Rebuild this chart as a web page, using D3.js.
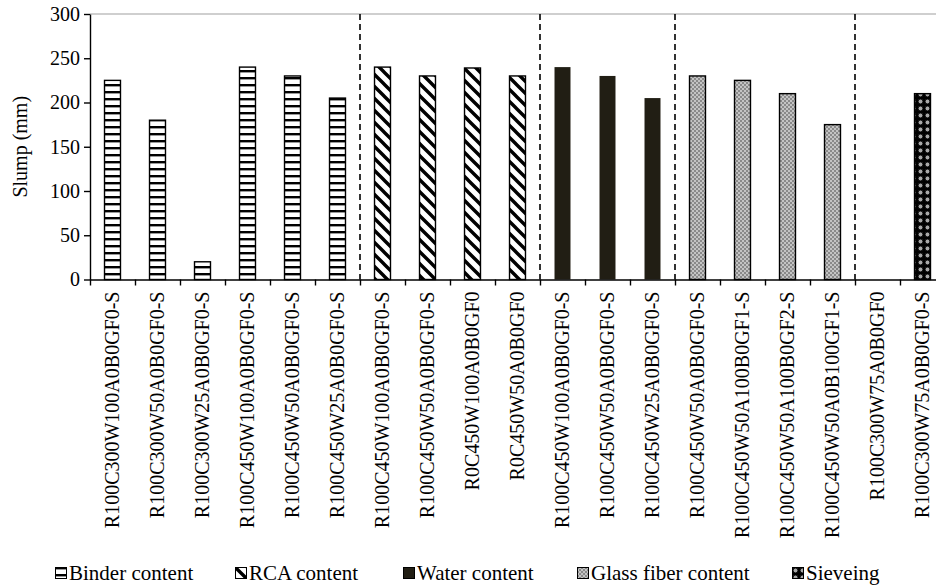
<!DOCTYPE html>
<html>
<head>
<meta charset="utf-8">
<script src="https://cdn.jsdelivr.net/npm/d3@7"></script>
<style>
  body { margin: 0; background: #fff; }
</style>
</head>
<body>
<svg id="chart" width="936" height="586"></svg>
<script>
// mix names
const mixes = [
  "R100C300W100A0B0GF0-S", "R100C300W50A0B0GF0-S", "R100C300W25A0B0GF0-S",
  "R100C450W100A0B0GF0-S", "R100C450W50A0B0GF0-S", "R100C450W25A0B0GF0-S",
  "R100C450W100A0B0GF0-S", "R100C450W50A0B0GF0-S", "R0C450W100A0B0GF0", "R0C450W50A0B0GF0",
  "R100C450W100A0B0GF0-S", "R100C450W50A0B0GF0-S", "R100C450W25A0B0GF0-S",
  "R100C450W50A0B0GF0-S", "R100C450W50A100B0GF1-S", "R100C450W50A100B0GF2-S", "R100C450W50A0B100GF1-S",
  "R100C300W75A0B0GF0", "R100C300W75A0B0GF0-S"
]
// slump in mm
const slump = [225, 180, 20, 240, 230, 205, 240, 230, 239, 230, 240, 230, 205, 230, 225, 210, 175, 0, 210]
// which study group each bar belongs to
const groupOf = [0, 0, 0, 0, 0, 0, 1, 1, 1, 1, 2, 2, 2, 3, 3, 3, 3, 4, 4]
const groupNames = ["Binder content", "RCA content", "Water content", "Glass fiber content", "Sieveing"]
const yTicks = [0, 50, 100, 150, 200, 250, 300]

const serif = "'Liberation Serif', 'Times New Roman', serif"
const svg = d3.select("#chart")
const plotLeft = 90, plotTop = 14, plotBottom = 279.5, step = 45

const x = d3.scaleBand()
  .domain(d3.range(mixes.length))
  .range([plotLeft, plotLeft + step * mixes.length])
  .paddingInner(0.645)
  .paddingOuter(0.3225)

const xEdge = d3.scaleLinear()
  .domain([0, mixes.length])
  .range([plotLeft, plotLeft + step * mixes.length])

const y = d3.scaleLinear().domain([0, 300]).range([plotBottom, plotTop])

// fill patterns
const defs = svg.append("defs")

const pHoriz = defs.append("pattern").attr("id", "p0")
  .attr("patternUnits", "userSpaceOnUse").attr("width", 8).attr("height", 7)
pHoriz.append("rect").attr("width", 8).attr("height", 7).attr("fill", "#fff")
pHoriz.append("rect").attr("y", 0).attr("width", 8).attr("height", 2.4).attr("fill", "#000")

const pDiag = defs.append("pattern").attr("id", "p1")
  .attr("patternUnits", "userSpaceOnUse").attr("width", 12).attr("height", 12)
pDiag.append("rect").attr("width", 12).attr("height", 12).attr("fill", "#fff")
pDiag.append("path").attr("d", "M-3,-3L15,15M-3,9L3,15M9,-3L15,3")
  .attr("stroke", "#000").attr("stroke-width", 3.4)

const pCheck = defs.append("pattern").attr("id", "p3")
  .attr("patternUnits", "userSpaceOnUse").attr("width", 4).attr("height", 4)
pCheck.append("rect").attr("width", 4).attr("height", 4).attr("fill", "#c4c4c4")
pCheck.append("rect").attr("width", 2).attr("height", 2).attr("fill", "#8a8a8a")
pCheck.append("rect").attr("x", 2).attr("y", 2).attr("width", 2).attr("height", 2).attr("fill", "#8a8a8a")

const pDots = defs.append("pattern").attr("id", "p4")
  .attr("patternUnits", "userSpaceOnUse").attr("width", 7).attr("height", 7)
pDots.append("rect").attr("width", 7).attr("height", 7).attr("fill", "#000")
pDots.append("circle").attr("cx", 3.5).attr("cy", 3.5).attr("r", 2.4)
  .attr("fill", "#a8a8a8").attr("stroke", "#000").attr("stroke-width", 0.8)

const fills = ["url(#p0)", "url(#p1)", "#211e14", "url(#p3)", "url(#p4)"]
const strokes = ["#000", "#000", "none", "#000", "#000"]

// top border of plot area
svg.append("line")
  .attr("x1", plotLeft).attr("x2", 936)
  .attr("y1", plotTop).attr("y2", plotTop)
  .attr("stroke", "#a0a0a0").attr("stroke-width", 1.2)

// dashed separators between groups
const splits = [6, 10, 13, 17]
svg.selectAll(".split")
  .data(splits)
  .join("line")
  .attr("class", "split")
  .attr("x1", d => xEdge(d)).attr("x2", d => xEdge(d))
  .attr("y1", plotTop).attr("y2", plotBottom)
  .attr("stroke", "#000").attr("stroke-width", 1.6)
  .attr("stroke-dasharray", "6,4")

// bars
svg.selectAll(".bar")
  .data(slump.map((v, i) => ({ i: i, v: v, g: groupOf[i] })).filter(d => d.v > 0))
  .join("rect")
  .attr("class", "bar")
  .attr("x", d => x(d.i))
  .attr("y", d => y(d.v))
  .attr("width", x.bandwidth())
  .attr("height", d => y(0) - y(d.v))
  .attr("fill", d => fills[d.g])
  .attr("stroke", d => strokes[d.g])
  .attr("stroke-width", 1.4)

// axes
const xAxis = svg.append("g")
  .attr("transform", "translate(0," + plotBottom + ")")
  .call(d3.axisBottom(xEdge).tickValues(d3.range(mixes.length + 1)).tickSize(6).tickSizeOuter(0).tickFormat(""))
xAxis.select(".domain").attr("stroke-width", 1.6)
xAxis.selectAll(".tick line").attr("stroke-width", 1.4)

const yAxis = svg.append("g")
  .attr("transform", "translate(" + plotLeft + ",0)")
  .call(d3.axisLeft(y).tickValues(yTicks).tickSize(6).tickSizeOuter(0))
yAxis.attr("font-family", serif).attr("font-size", 20)
yAxis.select(".domain").attr("stroke-width", 1.4)
yAxis.selectAll(".tick line").attr("stroke-width", 1.4)
yAxis.selectAll(".tick text").attr("fill", "#000").attr("x", -10)

// rotated category labels
svg.selectAll(".xlab")
  .data(mixes)
  .join("text")
  .attr("class", "xlab")
  .attr("transform", (d, i) => "translate(" + (x(i) + x.bandwidth() / 2) + "," + (plotBottom + 12) + ") rotate(-90)")
  .attr("dy", "0.33em")
  .attr("text-anchor", "end")
  .attr("font-family", serif)
  .attr("font-size", 20)
  .text(d => d)

svg.append("text")
  .attr("transform", "translate(27," + ((plotTop + plotBottom) / 2) + ") rotate(-90)")
  .attr("text-anchor", "middle")
  .attr("font-family", serif)
  .attr("font-size", 20)
  .text("Slump (mm)")

// legend
const legendX = [55, 235, 403, 577, 792]
const leg = svg.selectAll(".leg")
  .data(groupNames)
  .join("g")
  .attr("class", "leg")
  .attr("transform", (d, i) => "translate(" + legendX[i] + ",567)")
leg.append("rect")
  .attr("x", 0.5).attr("y", 0.5)
  .attr("width", 11).attr("height", 11)
  .attr("fill", (d, i) => fills[i])
  .attr("stroke", "#000").attr("stroke-width", 1)
leg.append("text")
  .attr("x", 14).attr("y", 13)
  .attr("font-family", serif)
  .attr("font-size", 21)
  .text(d => d)
</script>
</body>
</html>
